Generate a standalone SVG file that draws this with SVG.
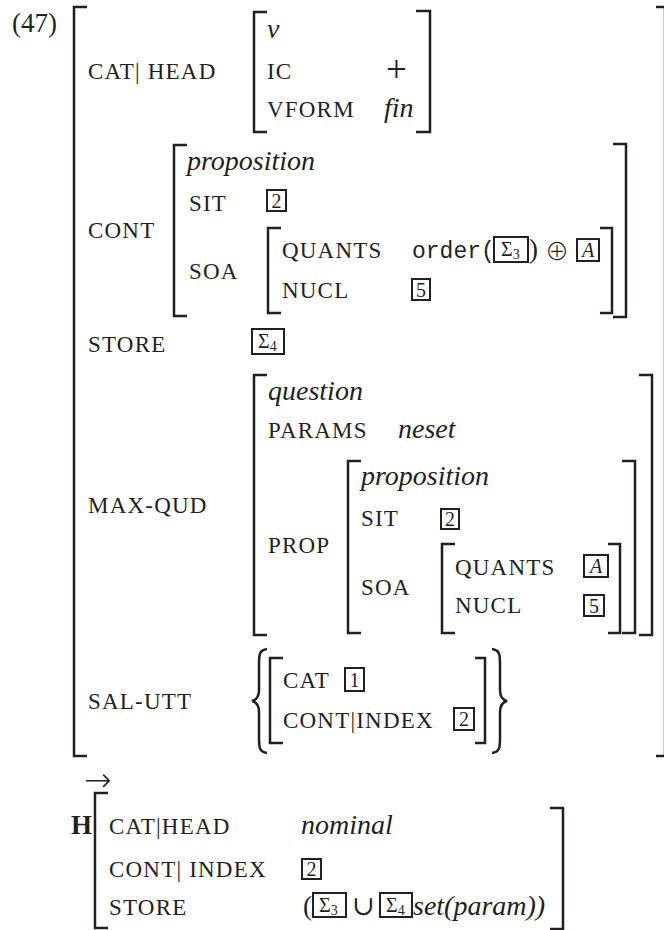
<svg xmlns="http://www.w3.org/2000/svg" width="664" height="930" viewBox="0 0 664 930">
<style>
text{font-family:"Liberation Serif","DejaVu Serif",serif;fill:#231f20}
.lbl{font-size:23px;letter-spacing:1.2px}
.it{font-size:28px;font-style:italic}
.rm{font-size:27px}
.sym{font-family:"DejaVu Sans",sans-serif;font-weight:200}
.op{font-family:"Noto Sans CJK JP","DejaVu Serif",serif;font-weight:300}
.mono{font-family:"Liberation Mono",monospace;font-size:23px}
.num{font-size:20px;text-anchor:middle}
.sub{font-size:14px}
.br{fill:none;stroke:#231f20;stroke-width:2.5}
.box{fill:none;stroke:#231f20;stroke-width:2}
</style>
<g id="brackets">
<path class="br" d="M87 7H74V756H87"/>
<path class="br" d="M656 7H665V756H656"/>
<path class="br" d="M267 12H254V132H267"/>
<path class="br" d="M416 11H430V132H416"/>
<path class="br" d="M187 145H174V316H187"/>
<path class="br" d="M613 144H626V317H613"/>
<path class="br" d="M281 228H268V313H281"/>
<path class="br" d="M600 228H612V313H600"/>
<path class="br" d="M267 375H254V635H267"/>
<path class="br" d="M639 375H652V635H639"/>
<path class="br" d="M361 461H348V633H361"/>
<path class="br" d="M622 461H635V633H622"/>
<path class="br" d="M455 544H442V633H455"/>
<path class="br" d="M608 544H620V633H608"/>
<path class="br" d="M283 658H270V743H283"/>
<path class="br" d="M475 658H485V743H475"/>
<path class="br" d="M108 793H95V928H108"/>
<path class="br" d="M550 808H563V929H550"/>
<path class="br" d="M267 649C259 650 259 655 259 665V690C259 697 256 700 252 701C256 702 259 705 259 712V737C259 747 259 752 267 753"/>
<path class="br" d="M492 649C500 650 500 655 500 665V690C500 697 503 700 507 701C503 702 500 705 500 712V737C500 747 500 752 492 753"/>
</g>
<g id="n47"><text class="rm" x="12" y="32">(47)</text></g>
<g id="cathead">
<text class="lbl" x="88" y="79">CAT| HEAD</text>
<text class="it" x="267" y="38">v</text>
<text class="lbl" x="267" y="79">IC</text>
<text x="386" y="82" style="font-size:37px">+</text>
<text class="lbl" x="267" y="117">VFORM</text>
<text class="it" x="384" y="117">fin</text>
</g>
<g id="cont">
<text class="lbl" x="88" y="238">CONT</text>
<text class="it" x="187" y="170">proposition</text>
<text class="lbl" x="189" y="211">SIT</text>
<rect class="box" x="267" y="190" width="19" height="21"/><text class="num" x="276.5" y="208">2</text>
<text class="lbl" x="189" y="279">SOA</text>
<text class="lbl" x="282" y="258">QUANTS</text>
<text class="mono" x="412" y="258">order(</text>
<rect class="box" x="494" y="237" width="34" height="25"/><text x="501" y="256" style="font-size:20px">Σ<tspan class="sub" dy="3">3</tspan></text>
<text class="rm" x="529" y="258">)</text>
<text class="op" x="545" y="260" style="font-size:24px">⊕</text>
<rect class="box" x="577" y="239" width="22" height="22"/><text class="num" x="588" y="257" font-style="italic">A</text>
<text class="lbl" x="282" y="298">NUCL</text>
<rect class="box" x="412" y="279" width="18" height="21"/><text class="num" x="421" y="297">5</text>
</g>
<g id="store">
<text class="lbl" x="88" y="352">STORE</text>
<rect class="box" x="252" y="329" width="32" height="25"/><text x="258" y="348" style="font-size:20px">Σ<tspan class="sub" dy="3">4</tspan></text>
</g>
<g id="maxqud">
<text class="lbl" x="88" y="513">MAX-QUD</text>
<text class="it" x="268" y="400">question</text>
<text class="lbl" x="268" y="438">PARAMS</text>
<text class="it" x="398" y="438">neset</text>
<text class="lbl" x="268" y="553">PROP</text>
<text class="it" x="361" y="485">proposition</text>
<text class="lbl" x="361" y="526">SIT</text>
<rect class="box" x="441" y="509" width="18" height="20"/><text class="num" x="450" y="526">2</text>
<text class="lbl" x="361" y="595">SOA</text>
<text class="lbl" x="455" y="575">QUANTS</text>
<rect class="box" x="584" y="555" width="24" height="22"/><text class="num" x="596" y="573" font-style="italic">A</text>
<text class="lbl" x="455" y="613">NUCL</text>
<rect class="box" x="584" y="595" width="20" height="21"/><text class="num" x="594" y="613">5</text>
</g>
<g id="salutt">
<text class="lbl" x="88" y="709">SAL-UTT</text>
<text class="lbl" x="283" y="688">CAT</text>
<rect class="box" x="345" y="668" width="19" height="23"/><text class="num" x="354.5" y="687">1</text>
<text class="lbl" x="283" y="728">CONT|INDEX</text>
<rect class="box" x="454" y="708" width="20" height="22"/><text class="num" x="464" y="726">2</text>
</g>
<g id="arrow"><text class="sym" x="84" y="791" style="font-size:33px">→</text></g>
<g id="h">
<text class="rm" x="71" y="834" font-weight="bold">H</text>
<text class="lbl" x="109" y="834">CAT|HEAD</text>
<text class="it" x="301" y="834">nominal</text>
<text class="lbl" x="109" y="877">CONT| INDEX</text>
<rect class="box" x="302" y="859" width="19" height="20"/><text class="num" x="311.5" y="876">2</text>
<text class="lbl" x="109" y="915">STORE</text>
<text class="rm" x="303" y="915">(</text>
<rect class="box" x="313" y="893" width="33" height="24"/><text x="319" y="912" style="font-size:20px">Σ<tspan class="sub" dy="3">3</tspan></text>
<text class="rm" x="352" y="915">∪</text>
<rect class="box" x="380" y="893" width="32" height="24"/><text x="386" y="912" style="font-size:20px">Σ<tspan class="sub" dy="3">4</tspan></text>
<text class="it" x="413" y="915">set(param))</text>
</g>
</svg>
